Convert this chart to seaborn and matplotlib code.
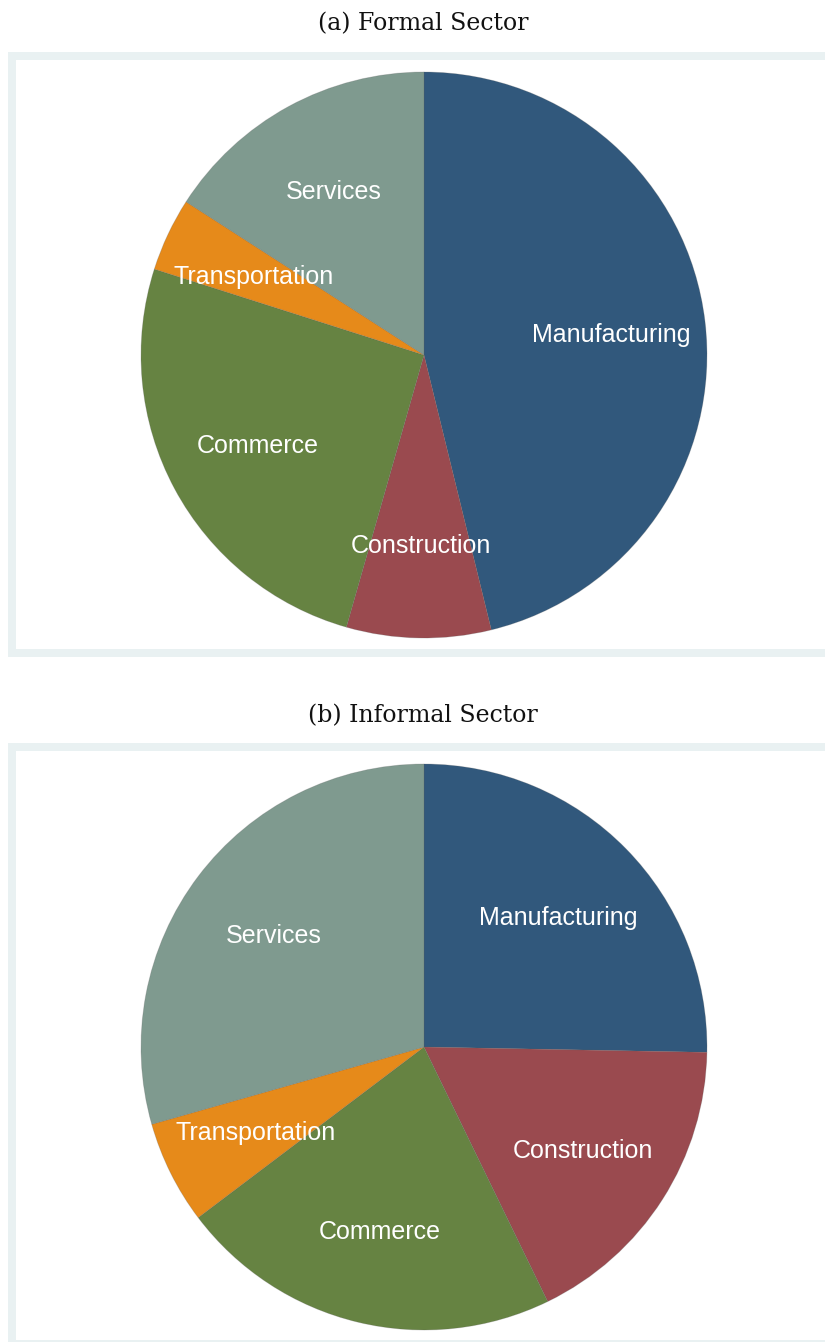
import matplotlib
matplotlib.use("Agg")
import matplotlib.pyplot as plt
from matplotlib.patches import Rectangle
import seaborn as sns

sectors = ["Manufacturing", "Construction", "Commerce", "Transportation", "Services"]
formal_share = [46.2, 8.25, 25.5, 4.2, 15.9]
informal_share = [25.3, 17.5, 21.9, 5.9, 29.4]
titles = ["(a) Formal Sector", "(b) Informal Sector"]
colors = ["#31587C", "#9A4A4F", "#668342", "#E68A1A", "#7F9A8F"]

sns.set_theme(style="white")
plt.rcParams["font.family"] = ["Liberation Sans", "DejaVu Sans"]

W, H = 825, 1342
dpi = 100
fig = plt.figure(figsize=(W / dpi, H / dpi), dpi=dpi)
palette = sns.color_palette(colors)

R = 283
centers = [355, 1047]
frame_tops = [52, 743]
title_y = [24, 716]
cx = 424


def fig_rect(x0, y0, x1, y1, color):
    fig.patches.append(Rectangle((x0 / W, 1 - y1 / H), (x1 - x0) / W, (y1 - y0) / H,
                                 transform=fig.transFigure, facecolor=color,
                                 edgecolor="none", zorder=-5))


for i, (vals, title) in enumerate(zip([formal_share, informal_share], titles)):
    cy = centers[i]
    # frame (outer light band, inner white)
    ft = frame_tops[i]
    fig_rect(8, ft, 900, ft + 605, "#E9F1F2")
    fig_rect(16, ft + 8, 900, ft + 597, "white")

    ax = fig.add_axes([(cx - R) / W, 1 - (cy + R) / H, 2 * R / W, 2 * R / H])
    ax.set_zorder(2)
    ax.patch.set_alpha(0)
    wedges, texts = ax.pie(
        vals, labels=sectors, colors=palette, startangle=90, counterclock=False,
        labeldistance=0.665, radius=1.0,
        wedgeprops=dict(linewidth=0.6, edgecolor="#5a5a5a40"),
        textprops=dict(color="white", fontsize=18),
    )
    for t in texts:
        t.set_ha("center")
        t.set_va("center_baseline")
    ax.set_xlim(-1, 1)
    ax.set_ylim(-1, 1)
    ax.set_aspect("equal")
    ax.axis("off")

    fig.text(423 / W, 1 - title_y[i] / H, title, ha="center", va="center",
             fontsize=17, family=["DejaVu Serif"], color="#111111")

fig.savefig("out.png", dpi=dpi)
